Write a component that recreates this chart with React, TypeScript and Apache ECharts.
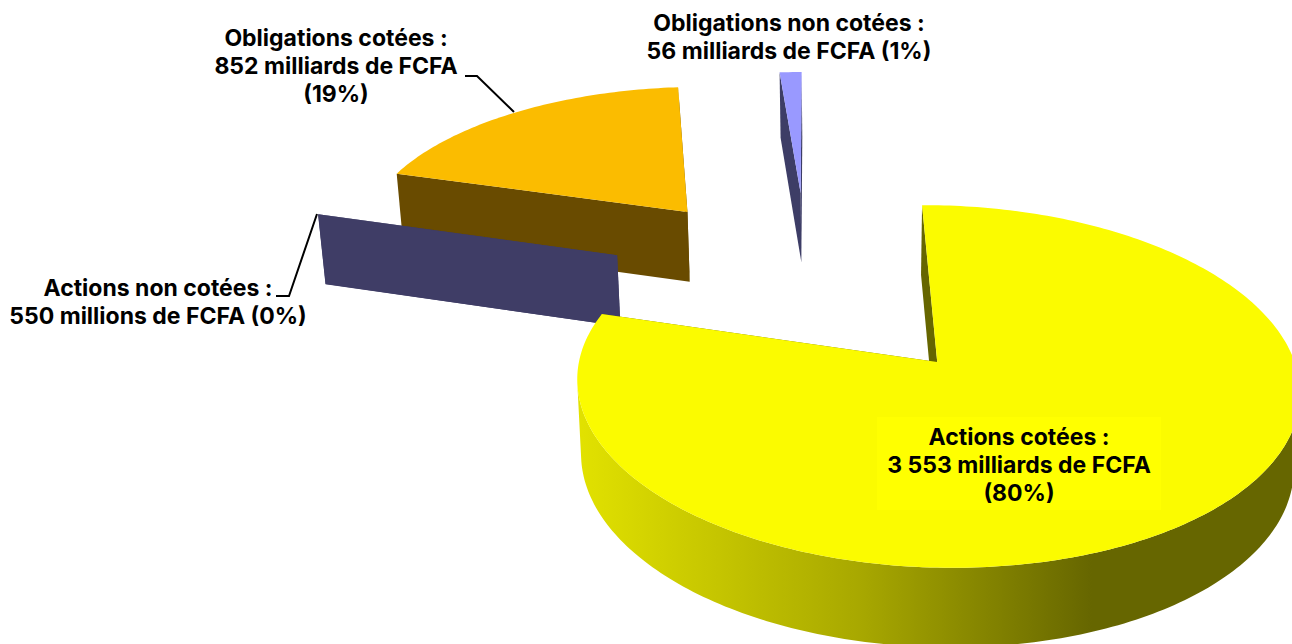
import React, { useEffect, useRef } from "react";
import * as echarts from "echarts";

const categories = ["Actions cotées", "Actions non cotées", "Obligations cotées", "Obligations non cotées"];
const values = [3553, 0.55, 852, 56];
const topColors = ["#FBFB00", "#3F3D66", "#FBBC00", "#9999FF"];
const wallColors = ["#666600", "#3F3D66", "#694B00", "#3D3D66"];
const drawOrder = [3, 2, 1, 0];
const labels = [
  "Actions cotées :\n3 553 milliards de FCFA\n(80%)",
  "Actions non cotées :\n550 millions de FCFA (0%)",
  "Obligations cotées :\n852 milliards de FCFA\n(19%)",
  "Obligations non cotées :\n56 milliards de FCFA (1%)",
];

const FONT = 'Inter, "Noto Sans", sans-serif';
const START = -1;
const EXPLODE = 0.605;
const BASE = [-0.369, 0.479];
const total = values.reduce((a, b) => a + b, 0);

function project(u: number, v: number, bottom = false): number[] {
  const w = 1 + 0.135 * v;
  let x = 856 + (81 + 358 * u) / w;
  let y = 362 - (178 * v) / w + 1.5 * u;
  if (bottom) {
    y += 74 / Math.sqrt(w);
    x += (850 - x) * 0.014;
  }
  return [x, y];
}

function dir(deg: number): number[] {
  const r = (deg * Math.PI) / 180;
  return [Math.sin(r), Math.cos(r)];
}

function renderSlice(params: any, api: any) {
  const i = api.value(0);
  const before = values.slice(0, i).reduce((a, b) => a + b, 0);
  const a0 = START + (before / total) * 360;
  const a1 = a0 + (api.value(1) / total) * 360;
  const m = dir((a0 + a1) / 2);
  const ax = BASE[0] + EXPLODE * m[0];
  const ay = BASE[1] + EXPLODE * m[1];
  const rimAngles: number[] = [];
  const n = Math.max(1, Math.ceil(a1 - a0));
  for (let k = 0; k <= n; k++) rimAngles.push(a0 + ((a1 - a0) * k) / n);
  const rim = (bottom: boolean) =>
    rimAngles.map((a) => {
      const d = dir(a);
      return project(ax + d[0], ay + d[1], bottom);
    });
  const topRim = rim(false);
  const botRim = rim(true);
  const apexT = project(ax, ay, false);
  const apexB = project(ax, ay, true);
  const wall = wallColors[i];
  const rimFill =
    i === 0
      ? new echarts.graphic.LinearGradient(
          577, 0, 1292, 0,
          [
            { offset: 0, color: "#E2E200" },
            { offset: 0.395, color: "#A8A800" },
            { offset: 0.72, color: "#666600" },
            { offset: 1, color: "#666600" },
          ],
          true
        )
      : wall;
  const poly = (points: number[][], fill: any) => ({
    type: "polygon",
    shape: { points },
    style: { fill, stroke: null },
    silent: true,
  });
  // Only the part of the rim that faces the viewer is drawn, one polygon per run.
  const runs: any[] = [];
  let from = -1;
  for (let k = 0; k <= n; k++) {
    let front = false;
    if (k < n) {
      const tx = topRim[k + 1][0] - topRim[k][0];
      const ty = topRim[k + 1][1] - topRim[k][1];
      const hx = botRim[k][0] - topRim[k][0];
      const hy = botRim[k][1] - topRim[k][1];
      front = tx * hy - ty * hx < 0;
    }
    if (front && from < 0) from = k;
    if (!front && from >= 0) {
      const t = topRim.slice(from, k + 1);
      const b = botRim.slice(from, k + 1).reverse();
      runs.push(poly([...t, ...b], rimFill));
      from = -1;
    }
  }
  return {
    type: "group",
    children: [
      poly([apexT, topRim[0], botRim[0], apexB], wall),
      poly([apexT, topRim[n], botRim[n], apexB], wall),
      ...runs,
      poly([apexT, ...topRim], topColors[i]),
    ],
  };
}

const textStyle = (x: number, y: number, text: string) => ({
  type: "text",
  x,
  y,
  z: 20,
  style: {
    text,
    fill: "#000",
    font: `bold 23px ${FONT}`,
    lineHeight: 28,
    align: "center",
    verticalAlign: "top",
  },
});

export default function App() {
  const ref = useRef<HTMLDivElement>(null);
  useEffect(() => {
    const chart = echarts.init(ref.current!, null, { renderer: "svg" });
    chart.setOption({
      animation: false,
      backgroundColor: "#fff",
      series: [
        {
          type: "custom",
          name: "Répartition",
          coordinateSystem: "none",
          silent: true,
          data: drawOrder.map((i) => ({ name: categories[i], value: [i, values[i]] })),
          renderItem: renderSlice,
          z: 2,
        },
      ],
      graphic: [
        { type: "rect", z: 15, shape: { x: 877, y: 417, width: 284, height: 93 }, style: { fill: "#FFFF00" } },
        textStyle(1019, 423, labels[0]),
        textStyle(158, 274, labels[1]),
        textStyle(336, 24, labels[2]),
        textStyle(789, 9, labels[3]),
        {
          type: "polyline",
          z: 20,
          shape: { points: [[465, 76], [477, 76], [514, 112]] },
          style: { stroke: "#000", lineWidth: 2, fill: null },
        },
        {
          type: "polyline",
          z: 20,
          shape: { points: [[276, 296], [289, 296], [317, 214]] },
          style: { stroke: "#000", lineWidth: 2, fill: null },
        },
      ],
    });
    return () => chart.dispose();
  }, []);
  return <div ref={ref} style={{ position: "absolute", left: 0, top: 0, width: 1292, height: 644 }} />;
}
